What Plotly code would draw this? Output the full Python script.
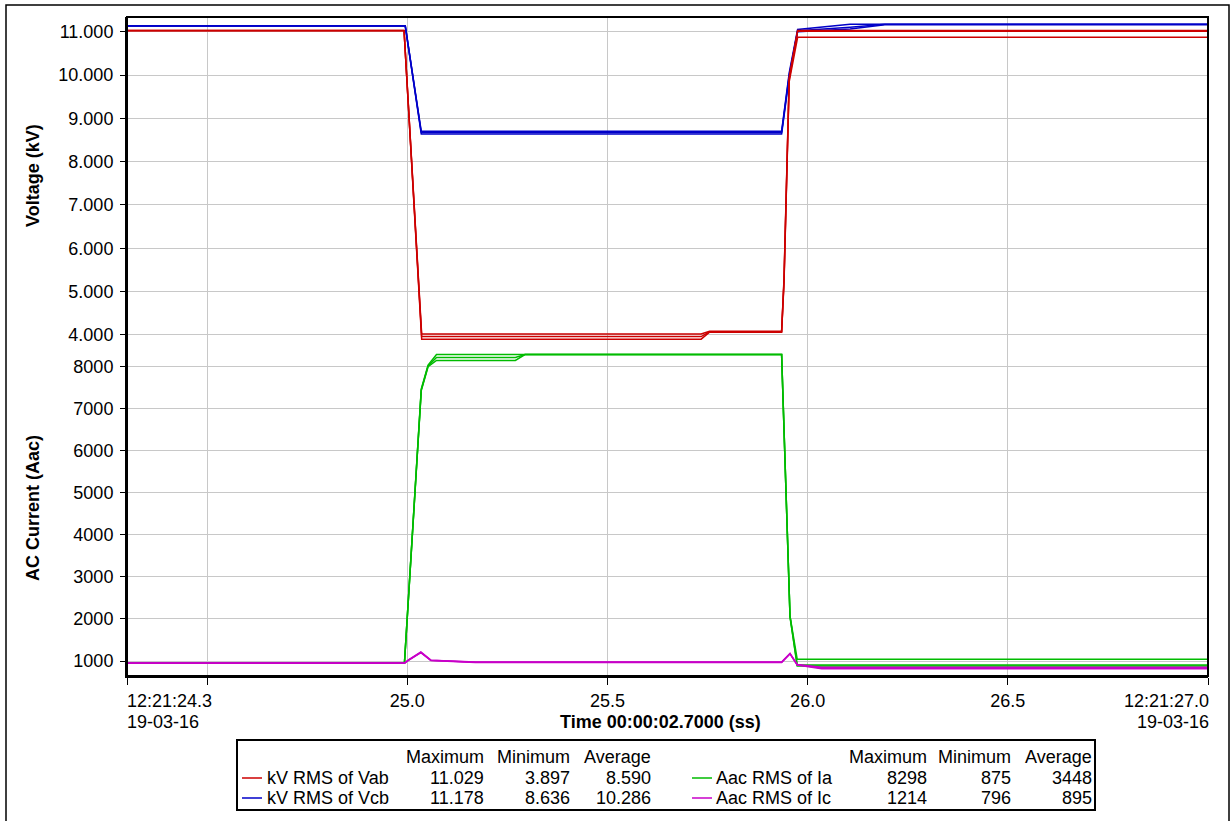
import plotly.graph_objects as go
from plotly.subplots import make_subplots

# ---------------- data ----------------
# kV RMS of Vab (max / avg / min envelope)
vab_t   = [24.300, 24.992, 25.036, 25.734, 25.755, 25.935, 25.941, 25.946, 25.954, 25.975, 27.000]
vab_max = [11.03, 11.03, 4.02, 4.02, 4.08, 4.08, 5.30, 7.10, 9.95, 11.03, 11.03]
vab_avg = [11.03, 11.03, 3.96, 3.96, 4.07, 4.07, 5.25, 7.05, 9.90, 11.01, 11.01]
vab_min = [11.02, 11.02, 3.90, 3.90, 4.06, 4.06, 5.20, 7.00, 9.85, 10.87, 10.87]

# kV RMS of Vcb
vcb_t   = [24.300, 24.995, 25.035, 25.935, 25.954, 25.975, 26.106, 26.193, 27.000]
vcb_max = [11.14, 11.14, 8.70, 8.70, 10.05, 11.05, 11.17, 11.17, 11.17]
vcb_avg = [11.13, 11.13, 8.67, 8.67, 10.00, 11.02, 11.10, 11.17, 11.17]
vcb_min = [11.13, 11.13, 8.64, 8.64, 9.95, 11.00, 11.06, 11.16, 11.16]

# Aac RMS of Ia
ia_t   = [24.300, 24.993, 25.035, 25.052, 25.073, 25.270, 25.294, 25.935, 25.956, 25.974, 27.000]
ia_max = [960, 960, 7470, 8040, 8290, 8290, 8290, 8290, 2070, 1040, 1040]
ia_avg = [955, 955, 7450, 8020, 8220, 8220, 8290, 8290, 2060, 905, 905]
ia_min = [950, 950, 7430, 8000, 8150, 8150, 8290, 8290, 2050, 880, 880]

# Aac RMS of Ic
ic_t   = [24.300, 24.993, 25.004, 25.034, 25.059, 25.110, 25.170, 25.935, 25.956, 25.974, 26.035, 27.000]
ic_max = [955, 955, 1030, 1214, 1020, 1005, 975, 975, 1180, 915, 850, 850]
ic_avg = [950, 950, 1025, 1205, 1015, 1000, 970, 970, 1175, 910, 835, 835]
ic_min = [945, 945, 1020, 1200, 1010, 995, 965, 965, 1170, 905, 815, 815]

# x tick labels
x_tickvals = [24.3, 24.5, 25.0, 25.5, 26.0, 26.5, 27.0]
x_ticktext = ["", "", "25.0", "25.5", "26.0", "26.5", ""]
x_start_label = ["12:21:24.3", "19-03-16"]
x_end_label = ["12:21:27.0", "19-03-16"]
x_title = "<b>Time 00:00:02.7000 (ss)</b>"

v_ticks = [4, 5, 6, 7, 8, 9, 10, 11]
i_ticks = [1000, 2000, 3000, 4000, 5000, 6000, 7000, 8000]

# legend table
stat_headers = ["Maximum", "Minimum", "Average"]
leg_left_names = ["kV RMS of Vab", "kV RMS of Vcb"]
leg_left_vals = [["11.029", "3.897", "8.590"], ["11.178", "8.636", "10.286"]]
leg_right_names = ["Aac RMS of Ia", "Aac RMS of Ic"]
leg_right_vals = [["8298", "875", "3448"], ["1214", "796", "895"]]

RED, BLUE, GREEN, MAG = "#cc0000", "#0000c8", "#00bb00", "#c800c8"

# ---------------- layout geometry ----------------
W, H = 1232, 821
L, R, T, B = 127, 24, 17, 145
PW, PH = W - L - R, H - T - B
SPLIT = 350  # pixel y of boundary between panels
FONT = "Liberation Sans, Arial, sans-serif"


def px(x):
    return (x - L) / PW


def py(y):
    return (H - B - y) / PH


split_frac = py(SPLIT)

fig = make_subplots(rows=2, cols=1, shared_xaxes=True, vertical_spacing=0,
                    row_heights=[1 - split_frac, split_frac])

def add_env(t, mx, av, mn, color, row):
    for ys in (mn, av, mx):
        fig.add_trace(go.Scatter(x=t, y=ys, mode="lines",
                                 line=dict(color=color, width=1.5),
                                 showlegend=False, hoverinfo="skip"),
                      row=row, col=1)

add_env(vcb_t, vcb_max, vcb_avg, vcb_min, BLUE, 1)
add_env(vab_t, vab_max, vab_avg, vab_min, RED, 1)
add_env(ia_t, ia_max, ia_avg, ia_min, GREEN, 2)
add_env(ic_t, ic_max, ic_avg, ic_min, MAG, 2)

grid = "#c8c8c8"
axis_common = dict(showgrid=True, gridcolor=grid, gridwidth=1, zeroline=False,
                   showline=True, linecolor="black", linewidth=2,
                   tickfont=dict(family=FONT, size=18, color="black"))

fig.update_xaxes(range=[24.3, 27.0], tickmode="array", tickvals=x_tickvals,
                 ticktext=x_ticktext, **axis_common)
fig.update_xaxes(showticklabels=False, ticks="", showline=False, row=1, col=1)
fig.update_xaxes(ticks="outside", ticklen=7, tickwidth=1, tickcolor="black",
                 row=2, col=1)

# y axes
v_top = 11 + (31.7 - T) / 43.3
v_bot = 11 - (SPLIT - 31.7) / 43.3
i_top = 8000 + (366.7 - SPLIT) / 42.04 * 1000
i_bot = 1000 - (H - B - 661) / 42.04 * 1000
fig.update_yaxes(range=[v_bot, v_top], tickmode="array", tickvals=v_ticks,
                 ticktext=[f"{v:.3f}" for v in v_ticks], ticks="outside",
                 ticklen=5, tickcolor="black", ticklabelstandoff=3,
                 row=1, col=1, **axis_common)
fig.update_yaxes(range=[i_bot, i_top], tickmode="array", tickvals=i_ticks,
                 ticktext=[str(v) for v in i_ticks], ticks="outside",
                 ticklen=5, tickcolor="black", ticklabelstandoff=3,
                 row=2, col=1, **axis_common)

shapes = []
# plot area frame
shapes.append(dict(type="rect", xref="paper", yref="paper", x0=0, x1=1, y0=0, y1=1,
                   line=dict(color="black", width=2), layer="above"))
# outer frame
shapes.append(dict(type="rect", xref="paper", yref="paper", x0=px(6), x1=px(1229),
                   y0=py(825), y1=py(5), line=dict(color="black", width=1.5)))
# legend box
shapes.append(dict(type="rect", xref="paper", yref="paper", x0=px(237), x1=px(1095),
                   y0=py(810), y1=py(740), line=dict(color="black", width=2)))

annotations = []

def txt(text, x, y, xanchor="center", bold=False, size=18, angle=0):
    annotations.append(dict(text=f"<b>{text}</b>" if bold else text,
                            x=px(x), y=py(y), xref="paper", yref="paper",
                            xanchor=xanchor, yanchor="middle", showarrow=False,
                            textangle=angle,
                            font=dict(family=FONT, size=size, color="black")))

# x axis end labels and title
txt(x_start_label[0], 125, 701, "left")
txt(x_start_label[1], 125, 722, "left")
txt(x_end_label[0], 1211, 701, "right")
txt(x_end_label[1], 1211, 722, "right")
txt(x_title, 660, 722)
# y axis titles
txt("Voltage (kV)", 33, 176, bold=True, angle=-90)
txt("AC Current (Aac)", 33, 508, bold=True, angle=-90)

# legend table
hdr_y, row_y = 757, [778, 798]
left_cols = [486, 572, 653]
right_cols = [929, 1013, 1094]
for h, x in zip(stat_headers, left_cols):
    txt(h, x, hdr_y, "right")
for h, x in zip(stat_headers, right_cols):
    txt(h, x, hdr_y, "right")
for i in range(2):
    y = row_y[i]
    shapes.append(dict(type="line", xref="paper", yref="paper", x0=px(242), x1=px(262),
                       y0=py(y), y1=py(y), line=dict(color=[RED, BLUE][i], width=1.5)))
    txt(leg_left_names[i], 265, y, "left")
    for v, x in zip(leg_left_vals[i], left_cols):
        txt(v, x, y, "right")
    shapes.append(dict(type="line", xref="paper", yref="paper", x0=px(692), x1=px(712),
                       y0=py(y), y1=py(y), line=dict(color=[GREEN, MAG][i], width=1.5)))
    txt(leg_right_names[i], 714, y, "left")
    for v, x in zip(leg_right_vals[i], right_cols):
        txt(v, x, y, "right")

fig.update_layout(width=W, height=H, margin=dict(l=L, r=R, t=T, b=B, autoexpand=False),
                  paper_bgcolor="white", plot_bgcolor="white", showlegend=False,
                  shapes=shapes, annotations=annotations,
                  font=dict(family=FONT, size=18, color="black"))

fig.write_html("out.html", config={"displayModeBar": False})
